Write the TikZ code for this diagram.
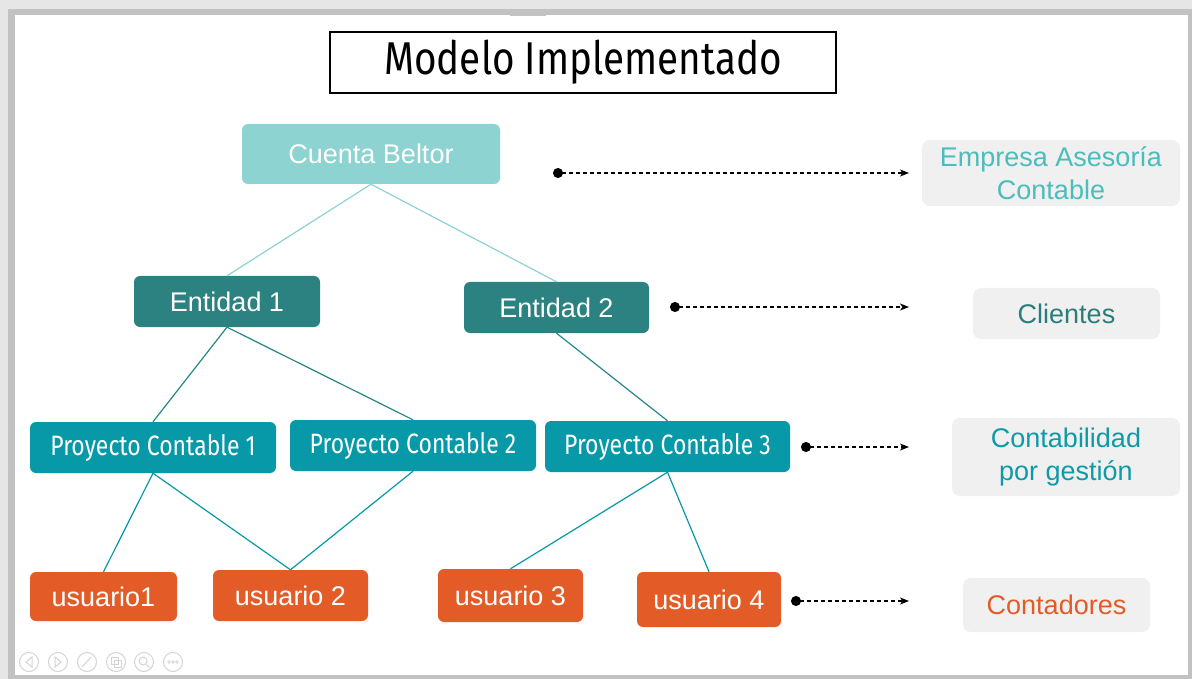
\documentclass[tikz,border=0pt]{standalone}
\usepackage{fontspec}
\setmainfont{Liberation Sans}
\newfontfamily\condf[FakeStretch=0.82]{Fira Sans}
\newfontfamily\titlef[FakeStretch=0.84]{Fira Sans}
\usetikzlibrary{arrows.meta}
\definecolor{cuentac}{HTML}{8CD3D2}
\definecolor{entc}{HTML}{2C8280}
\definecolor{projc}{HTML}{0799A8}
\definecolor{userc}{HTML}{E35C27}
\definecolor{sidec}{HTML}{F0F0F0}
\definecolor{emptxt}{HTML}{4ABDBC}
\definecolor{clitxt}{HTML}{2B7D7C}
\definecolor{contxt}{HTML}{0E9AA7}
\definecolor{framec}{HTML}{C2C2C2}
\definecolor{outerc}{HTML}{E6E6E6}
\definecolor{iconc}{HTML}{D4D4D4}
\tikzset{
  box/.style={rectangle, rounded corners=6pt, inner sep=0pt, align=center, text=white},
  cuentabox/.style={box, fill=cuentac, font=\fontsize{27}{30}\selectfont},
  entbox/.style={box, fill=entc, font=\fontsize{27}{30}\selectfont},
  projbox/.style={box, fill=projc, font=\condf\fontsize{28}{30}\selectfont},
  userbox/.style={box, fill=userc, font=\fontsize{27}{30}\selectfont},
  sidebox/.style={rectangle, rounded corners=8pt, inner sep=0pt, align=center, fill=sidec, font=\fontsize{27}{32.5}\selectfont},
  link/.style={line width=1.2pt},
  dotarrow/.style={dashed, dash pattern=on 4pt off 3pt, line width=1.1pt, {Circle[length=10pt]}-{Stealth[length=9pt,width=7pt,inset=2.5pt]}},
  icon/.style={draw=iconc, line width=1pt}
}
\begin{document}
\begin{tikzpicture}[x=1pt,y=-1pt]
\useasboundingbox (0,0) rectangle (1192,679);
% screenshot frame
\fill[outerc] (0,0) rectangle (1192,679);
\fill[framec] (8,9) rectangle (1192,679);
\fill[white] (15,15) rectangle (1188,675);
\fill[framec] (510,13) rectangle (546,16);
% title
\node[draw=black, line width=1.3pt, minimum width=506pt, minimum height=61pt, inner sep=0pt, font=\titlef\fontsize{46}{48}\selectfont] (title) at (583,62.5) {Modelo Implementado};
% tree nodes
\node[cuentabox, minimum width=258pt, minimum height=60pt] (cuenta) at (371,154) {Cuenta Beltor};
\node[entbox, minimum width=186pt, minimum height=51pt] (ent1) at (227,301.5) {Entidad 1};
\node[entbox, minimum width=185pt, minimum height=51pt] (ent2) at (556.5,307.5) {Entidad 2};
\node[projbox, minimum width=246pt, minimum height=51pt] (pc1) at (153,447.5) {Proyecto Contable 1};
\node[projbox, minimum width=246pt, minimum height=51pt] (pc2) at (413,445.5) {Proyecto Contable 2};
\node[projbox, minimum width=245pt, minimum height=51pt] (pc3) at (667.5,446.5) {Proyecto Contable 3};
\node[userbox, minimum width=147pt, minimum height=49pt] (u1) at (103.5,596.5) {usuario1};
\node[userbox, minimum width=155pt, minimum height=51pt] (u2) at (290.5,595.5) {usuario 2};
\node[userbox, minimum width=145pt, minimum height=53pt] (u3) at (510.5,595.5) {usuario 3};
\node[userbox, minimum width=144pt, minimum height=55pt] (u4) at (709,599.5) {usuario 4};
% side labels
\node[sidebox, minimum width=258pt, minimum height=66pt, text=emptxt] (empresa) at (1051,173) {Empresa Asesoría\\Contable};
\node[sidebox, minimum width=187pt, minimum height=51pt, text=clitxt] (clientes) at (1066.5,313.5) {Clientes};
\node[sidebox, minimum width=228pt, minimum height=78pt, text=contxt] (contab) at (1066,457) {Contabilidad\\por gestión};
\node[sidebox, minimum width=187pt, minimum height=54pt, text=userc] (contadores) at (1056.5,605) {Contadores};
% connectors
\draw[link, cuentac] (cuenta.south) -- (ent1.north);
\draw[link, cuentac] (cuenta.south) -- (ent2.north);
\draw[link, entc!80!projc] (ent1.south) -- (pc1.north);
\draw[link, entc!80!projc] (ent1.south) -- (pc2.north);
\draw[link, entc!80!projc] (ent2.south) -- (pc3.north);
\draw[link, projc] (pc1.south) -- (u1.north);
\draw[link, projc] (pc1.south) -- (u2.north);
\draw[link, projc] (pc2.south) -- (u2.north);
\draw[link, projc] (pc3.south) -- (u3.north);
\draw[link, projc] (pc3.south) -- (u4.north);
% dotted arrows
\coordinate (d1) at (553,173); \coordinate (a1) at (909,173);
\coordinate (d2) at (670,307); \coordinate (a2) at (909,307);
\coordinate (d3) at (801,447); \coordinate (a3) at (909,447);
\coordinate (d4) at (791,601); \coordinate (a4) at (909,601);
\draw[dotarrow] (d1) -- (a1);
\draw[dotarrow] (d2) -- (a2);
\draw[dotarrow] (d3) -- (a3);
\draw[dotarrow] (d4) -- (a4);
% toolbar icons
\foreach \cx/\nm in {29/i1,58/i2,87/i3,116/i4,144/i5,173/i6}{
  \node[icon, circle, minimum size=19pt, inner sep=0pt] (\nm) at (\cx,662) {};
}
\draw[icon] (32,657) -- (26,662) -- (32,667) -- cycle;
\draw[icon] (55,657) -- (61,662) -- (55,667) -- cycle;
\draw[icon] (82,667) -- (91,657);
\draw[icon] (111,657) rectangle (118,664); \draw[icon] (114,660) rectangle (121,667);
\draw[icon] (143,661) circle (4pt); \draw[icon] (146,664) -- (150,668);
\foreach \dx in {-4,0,4}{ \draw[icon, line width=0.8pt] (173+\dx,662) circle (1.4pt); }
\end{tikzpicture}
\end{document}
